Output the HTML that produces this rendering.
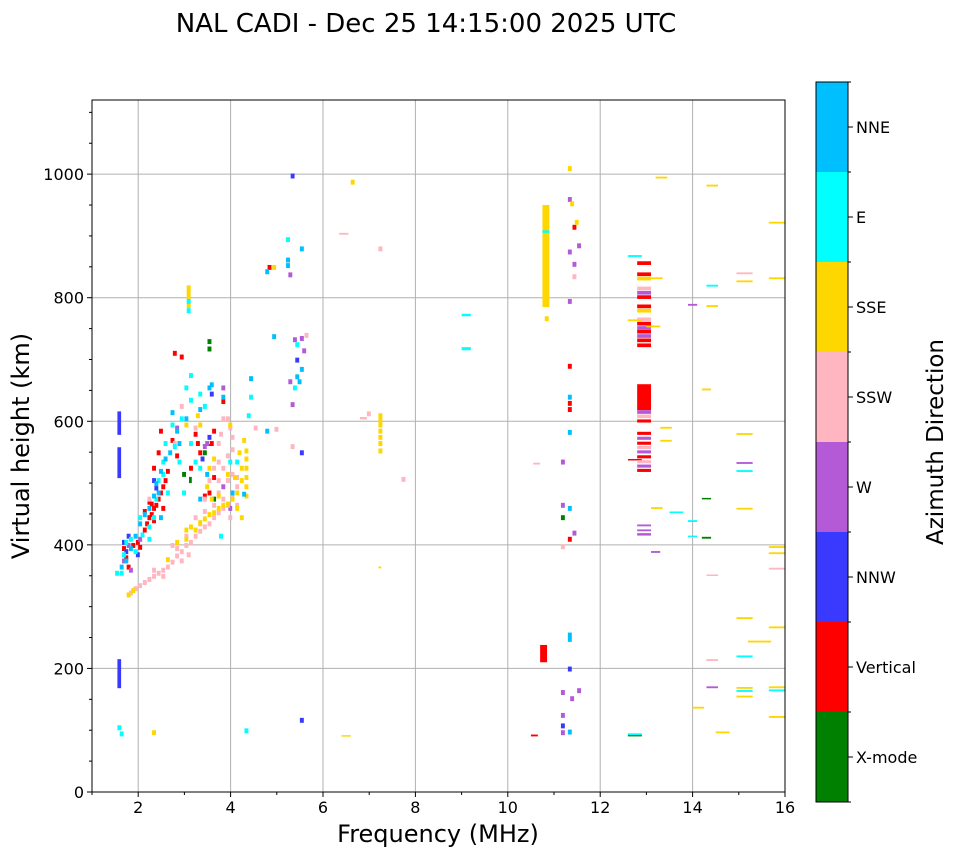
<!DOCTYPE html>
<html><head><meta charset="utf-8"><style>
body{margin:0;background:#fff;}
svg{display:block;font-family:"DejaVu Sans","Liberation Sans",sans-serif;}
</style></head><body>
<svg id="chart" width="958" height="857" viewBox="0 0 958 857" xmlns="http://www.w3.org/2000/svg">
<rect width="958" height="857" fill="#fff"/>
<text x="426" y="32" font-size="26" text-anchor="middle">NAL CADI - Dec 25 14:15:00 2025 UTC</text>
<g id="grid"></g><g id="marks"></g><g id="axes"></g><g id="cbar"></g>
<text x="438" y="842" font-size="24" text-anchor="middle">Frequency (MHz)</text>
<text transform="translate(29,446) rotate(-90)" font-size="24" text-anchor="middle">Virtual height (km)</text>
<text transform="translate(943,442) rotate(-90)" font-size="23" text-anchor="middle">Azimuth Direction</text>
</svg>
<script>
// data: [freqMHz, heightKm, freqSpan?, heightSpan?]
const xmode=[[3.5,725],[3.5,713],[3.4,560,0.2,3],[3.4,545],[3.1,500,0.06,10],[2.95,510],[3.6,470],[12.6,90,0.3,4],[11.15,440],[14.2,410,0.2,3],[14.2,474,0.2,2]];
const vertical=[[1.85,395],[1.95,400],[2.0,392],[2.1,420],[2.15,430],[2.2,440],[2.25,445],[2.3,455],[2.35,460],[2.4,470],[2.45,480],[2.5,490],[2.55,500],[2.2,465],[2.3,520],[2.4,545],[2.45,580],[2.7,565],[2.8,540],[2.6,515],[3.1,520],[3.25,560],[3.3,545],[2.75,706],[2.9,700],[3.6,505],[3.55,560],[3.8,628],[2.25,462],[2.1,450],[1.7,375],[1.75,360],[2.3,435],[2.5,455],[3.4,475],[3.5,480],[3.2,575],[3.6,580],[1.65,390],[4.8,845],[11.3,685],[11.3,625],[11.3,615],[11.3,405],[11.4,910],[10.5,90,0.15,3],[10.7,210,0.15,28],[12.6,537,0.3,2],[12.8,618,0.3,42],[12.8,598,0.3,5],[12.8,578,0.3,5],[12.8,562,0.3,5],[12.8,540,0.3,5],[12.8,518,0.3,5],[12.8,853,0.3,6],[12.8,835,0.3,6],[12.8,798,0.3,6],[12.8,783,0.3,6],[12.8,755,0.3,6],[12.8,742,0.3,6],[12.8,728,0.3,6],[12.8,720,0.3,6]];
const nnw=[[1.55,578,0.08,38],[1.55,508,0.08,50],[1.55,168,0.08,47],[1.7,385],[1.65,400],[1.75,410],[1.95,380],[2.3,500],[3.5,570],[2.35,488],[3.55,640],[3.35,535],[5.3,993],[5.4,695],[5.5,545],[5.5,112],[11.3,195],[11.15,103]];
const w=[[1.65,370],[1.75,395],[2.0,405],[2.8,585],[3.45,560],[3.4,555],[3.8,650],[3.95,455],[3.8,490],[1.8,355],[5.25,833],[5.35,728],[5.5,730],[5.55,710],[5.25,660],[5.3,623],[11.3,955],[11.5,880],[11.3,870],[11.4,850],[11.3,790],[11.15,530],[11.15,460],[11.4,415],[11.15,157],[11.35,147],[11.5,160],[11.15,120],[11.15,92],[13.1,387,0.2,3],[13.9,787,0.2,3],[14.3,168,0.25,3],[14.95,531,0.35,3],[12.8,805,0.3,6],[12.8,748,0.3,6],[12.8,735,0.3,6],[12.8,612,0.3,6],[12.8,570,0.3,5],[12.8,548,0.3,5],[12.8,525,0.3,5],[12.8,415,0.3,4],[12.8,422,0.3,3],[12.8,430,0.3,3]];
const ssw=[[1.8,318],[1.9,325],[2.0,330],[2.1,335],[2.2,340],[2.3,345],[2.4,350],[2.5,355],[2.6,360],[2.7,368],[2.8,378],[2.9,385],[3.0,395],[3.1,400],[3.2,410],[3.3,418],[3.4,425],[3.5,430],[3.6,440],[3.7,448],[3.8,455],[3.9,460],[2.8,390],[3.0,410],[3.2,440],[3.4,450],[3.6,460],[3.8,470],[4.0,475],[3.7,480],[3.9,500],[4.0,510],[4.1,505],[3.8,520],[3.9,540],[4.0,550],[4.1,490],[3.7,500],[3.5,500],[3.4,470],[3.6,520],[3.7,560],[2.7,395],[2.9,370],[2.5,345],[2.3,355],[3.05,380],[3.3,430],[3.75,575],[3.95,585],[4.5,585],[2.75,560],[2.9,620],[3.2,585],[2.2,470],[4.1,460],[3.95,440],[3.9,600],[4.0,570],[3.7,530],[3.8,600],[4.95,583],[5.6,735],[5.3,555],[6.35,902,0.2,3],[7.2,875],[7.7,502],[6.8,603,0.15,4],[6.95,608],[10.55,530,0.15,3],[11.4,830],[11.15,393],[14.3,350,0.25,2],[14.3,212,0.25,3],[14.95,838,0.35,3],[15.65,360,0.35,3],[12.8,812,0.3,6],[12.8,762,0.3,6],[12.8,605,0.3,6],[12.8,555,0.3,5],[12.8,532,0.3,5]];
const sse=[[1.75,315],[1.85,322],[2.3,92],[2.6,372],[2.8,400],[3.0,405],[3.0,420],[3.1,425],[3.2,420],[3.3,432],[3.4,438],[3.5,445],[3.6,448],[3.7,455],[3.8,460],[3.9,462],[4.0,470],[4.1,480],[4.3,475],[4.3,490],[4.3,505],[4.3,520],[4.3,535],[4.3,548],[4.2,500],[4.2,520],[4.25,565],[3.95,590],[3.6,535],[3.5,520],[4.05,505],[4.15,545],[3.45,490],[3.55,470],[3.7,475],[3.9,510],[4.2,440],[4.1,455],[3.3,590],[3.0,590],[3.25,605],[3.05,812],[3.05,805],[3.05,798],[3.05,783],[4.9,845],[6.6,983],[6.4,90,0.2,2],[7.2,362,0.06,3],[7.2,605],[7.2,598],[7.2,590],[7.2,580],[7.2,570],[7.2,560],[7.2,548],[10.75,785,0.15,165],[10.8,762],[11.3,1005],[11.35,948],[11.45,918],[12.6,762,0.3,3],[13.0,752,0.3,3],[13.3,588,0.25,3],[13.3,567,0.25,3],[13.1,458,0.25,3],[13.2,993,0.25,3],[13.1,830,0.25,3],[14.2,650,0.2,3],[14.3,980,0.25,3],[14.3,785,0.25,3],[14.0,135,0.25,3],[14.5,95,0.3,3],[14.95,825,0.35,3],[14.95,578,0.35,3],[14.95,457,0.35,3],[14.95,280,0.35,3],[15.2,242,0.5,3],[14.95,167,0.35,3],[14.95,153,0.35,3],[15.65,920,0.35,3],[15.65,830,0.35,3],[15.65,395,0.35,3],[15.65,385,0.35,3],[15.65,265,0.35,3],[15.65,168,0.35,3],[15.65,120,0.35,3],[12.8,828,0.3,6],[12.8,776,0.3,6]];
const east=[[1.6,350],[1.65,380],[1.7,400],[1.8,405],[1.9,385],[2.05,412],[2.2,425],[2.3,440],[2.35,470],[2.4,500],[2.5,530],[2.55,560],[2.7,590],[2.9,600],[3.1,630],[3.3,640],[3.0,650],[2.95,480],[3.1,560],[3.4,620],[3.2,530],[2.75,555],[2.85,530],[2.6,480],[2.5,510],[3.95,530],[4.1,530],[3.75,410],[3.3,520],[2.2,405],[1.5,350],[2.0,440],[3.1,670],[3.05,790],[3.05,775],[5.2,890],[5.4,720],[5.35,650],[4.4,635],[4.35,605],[4.3,95],[1.55,100],[1.6,90],[9.0,770,0.2,4],[9.0,715,0.2,5],[10.75,905,0.15,4],[12.6,866,0.3,3],[13.5,452,0.3,2],[13.9,437,0.2,3],[13.9,413,0.2,2],[14.3,818,0.25,3],[14.95,518,0.35,3],[14.95,218,0.35,3],[14.95,162,0.35,3],[15.65,163,0.35,3],[12.6,92,0.3,3]];
const nne=[[1.6,360],[1.7,370],[1.8,390],[1.9,410],[2.0,430],[2.1,445],[2.2,455],[2.3,475],[2.35,495],[2.45,515],[2.55,535],[2.65,545],[2.8,580],[2.7,610],[3.0,600],[3.3,615],[3.5,650],[3.55,655],[2.85,560],[2.45,440],[3.45,510],[4.0,480],[2.4,480],[3.8,635],[3.3,470],[4.25,478],[4.75,838],[5.2,857],[5.2,848],[5.5,875],[4.75,580],[4.9,733],[5.5,680],[5.4,668],[5.45,660],[4.4,665],[11.3,635],[11.3,578],[11.3,455],[11.3,250],[11.3,243],[11.3,93]];
const dirLabels=["X-mode","Vertical","NNW","W","SSW","SSE","E","NNE"];
const dirColors=["#008000","#ff0000","#3a3aff","#b45ad6","#ffb6c1","#ffd700","#00ffff","#00bfff"];
const seriesList=[xmode,vertical,nnw,w,ssw,sse,east,nne];
const xTicks=[2,4,6,8,10,12,14,16];
const yTicks=[0,200,400,600,800,1000];

const NS="http://www.w3.org/2000/svg";
const L=92,R=785,T=100,B=792,fMin=1,fMax=16,hMin=0,hMax=1120;
const xs=f=>L+(f-fMin)/(fMax-fMin)*(R-L);
const ys=h=>B-(h-hMin)/(hMax-hMin)*(B-T);
function mk(tag,attrs,parent){const e=document.createElementNS(NS,tag);for(const k in attrs)e.setAttribute(k,attrs[k]);parent.appendChild(e);return e;}
const grid=document.getElementById('grid'),marks=document.getElementById('marks'),axes=document.getElementById('axes'),cbar=document.getElementById('cbar');
xTicks.forEach(t=>{const l=mk('line',{x1:xs(t),x2:xs(t),y1:T,y2:B,stroke:'#b0b0b0','stroke-width':1},grid);

});
yTicks.forEach(t=>{const l=mk('line',{x1:L,x2:R,y1:ys(t),y2:ys(t),stroke:'#b0b0b0','stroke-width':1},grid);

});
seriesList.forEach((arr,i)=>{const g=mk('g',{},marks);


arr.forEach(p=>{const fw=p[2]||0.085,hs=p[3]||8;const x1=xs(p[0]),x2=xs(p[0]+fw),y1=ys(p[1]+hs),y2=ys(p[1]);
const r=mk('rect',{x:x1,y:y1,width:Math.max(1,x2-x1),height:Math.max(1.5,y2-y1),fill:dirColors[i]},g);

});});
const frame=mk('rect',{x:L,y:T,width:R-L,height:B-T,fill:'none',stroke:'#000','stroke-width':1},axes);


for(let f=1;f<=16;f++){const major=f%2===0;mk('line',{x1:xs(f),x2:xs(f),y1:B,y2:B+(major?5:3),stroke:'#000'},axes);}
xTicks.forEach(t=>{const tx=mk('text',{x:xs(t),y:B+21,'font-size':16,'text-anchor':'middle'},axes);tx.textContent=t;

});
for(let h=0;h<=1100;h+=50){const major=h%200===0;mk('line',{x1:L,x2:L-(major?5:3),y1:ys(h),y2:ys(h),stroke:'#000'},axes);}
yTicks.forEach(t=>{const tx=mk('text',{x:L-8,y:ys(t)+6,'font-size':16,'text-anchor':'end'},axes);tx.textContent=t;

});
const cT=82,cB=802,cL=816,cW=32,seg=(cB-cT)/dirLabels.length;
dirLabels.forEach((lab,i)=>{const y0=cB-(i+1)*seg;
const r=mk('rect',{x:cL,y:y0,width:cW,height:seg,fill:dirColors[i]},cbar);


mk('line',{x1:cL+cW,x2:cL+cW+5,y1:y0+seg/2,y2:y0+seg/2,stroke:'#000'},cbar);
const tx=mk('text',{x:cL+cW+8,y:y0+seg/2+6,'font-size':16},cbar);tx.textContent=lab;

});
for(let i=0;i<=dirLabels.length;i++){mk('line',{x1:cL+cW,x2:cL+cW+3,y1:cT+i*seg,y2:cT+i*seg,stroke:'#000'},cbar);}
mk('rect',{x:cL,y:cT,width:cW,height:cB-cT,fill:'none',stroke:'#000'},cbar);
</script>
</body></html>
